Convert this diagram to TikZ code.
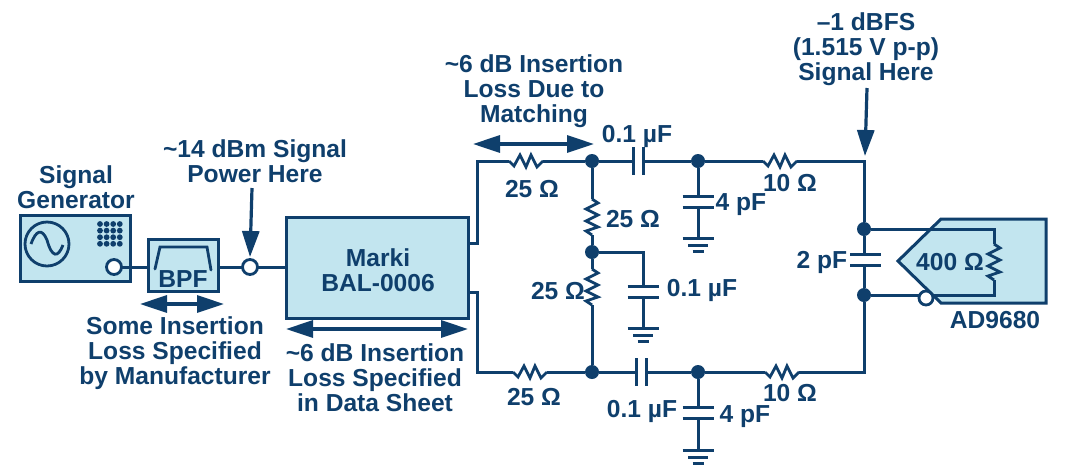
\documentclass[tikz,border=0pt]{standalone}
\usepackage{fontspec}
\setmainfont{Liberation Sans}
\usetikzlibrary{arrows.meta}
\definecolor{adi}{HTML}{0F3F6C}
\definecolor{adilight}{HTML}{C2E5EF}
\tikzset{
  x=1pt,y=-1pt,
  wire/.style={draw=adi,line width=3pt,line join=miter},
  box/.style={draw=adi,line width=3pt,fill=adilight,outer sep=0pt,inner sep=0pt},
  txt/.style={text=adi,font=\fontsize{24.6}{25}\selectfont\bfseries,align=center,inner sep=0pt},
  dot/.style={circle,fill=adi,draw=none,minimum size=14pt,inner sep=0pt},
  port/.style={circle,fill=white,draw=adi,line width=2.8pt,minimum size=15pt,inner sep=0pt,outer sep=0pt},
  span/.style={draw=adi,line width=3.2pt,{Triangle[length=27pt,width=17pt]}-{Triangle[length=27pt,width=17pt]}},
  callout/.style={draw=adi,line width=3.2pt,-{Triangle[length=26pt,width=17pt]}},
  hres/.pic={
    \fill[white] (-17,-3) rectangle (17,3);
    \draw[wire,line width=2.8pt] (-17,0)--(-12,5)--(-6,-6)--(0,6)--(5,-6)--(11,6)--(17,0);},
  vres/.pic={
    \fill[white] (-3,-18) rectangle (3,18);
    \draw[wire,line width=2.8pt] (0,-18)--(6,-14)--(-6,-8)--(6,-2)--(-6,4)--(6,10)--(-6,14)--(0,18);},
  vresblue/.pic={
    \fill[adilight] (-3,-18) rectangle (3,18);
    \draw[wire,line width=2.8pt] (0,-18)--(6,-14)--(-6,-8)--(6,-2)--(-6,4)--(6,10)--(-6,14)--(0,18);},
  hcap/.pic={
    \fill[white] (-5,-4) rectangle (5,4);
    \draw[wire] (-5,-14)--(-5,14) (5,-14)--(5,14);},
  vcap/.pic={
    \fill[white] (-4,-5) rectangle (4,5);
    \draw[wire] (-15.5,-5.5)--(15.5,-5.5) (-15.5,5.5)--(15.5,5.5);},
  gnd/.pic={
    \draw[wire] (-15.5,0)--(15.5,0) (-10,7)--(10,7) (-5.5,13)--(5.5,13);},
}
\begin{document}
\begin{tikzpicture}
\useasboundingbox (0,0) rectangle (1065,475);
% ADC body
\path[box] (898,261)--(941,219)--(1046,219)--(1046,303)--(941,303)--cycle;
% blocks
\node[box,minimum width=109.5pt,minimum height=66pt,anchor=north west] (gen) at (20.5,215.5) {};
\node[box,minimum width=70pt,minimum height=52pt,anchor=north west] (bpf) at (148.5,239.5) {};
\node[box,minimum width=181.5pt,minimum height=100.5pt,anchor=north west] (marki) at (286.5,217.5) {};
% junctions
\node[dot] (t1) at (592,161) {};
\node[dot] (t2) at (698,161) {};
\node[dot] (mid) at (592,252) {};
\node[dot] (b1) at (592,372) {};
\node[dot] (b2) at (698,372) {};
\node[dot] (i1) at (864,229) {};
\node[dot] (i2) at (864,295) {};
\coordinate (tl) at (477,161);
\coordinate (ml1) at (468,243);
\coordinate (ml2) at (477,243);
\coordinate (bl) at (477,372);
\coordinate (nl1) at (468,292);
\coordinate (nl2) at (477,292);
\coordinate (tr) at (864,161);
\coordinate (br) at (864,372);
\coordinate (rr1) at (994,229);
\coordinate (rr2) at (994,295);
\coordinate (mc) at (643,252);
\coordinate (g1) at (698,238);
\coordinate (g2) at (643,328);
\coordinate (g3) at (698,450);
% generator details
\node[circle,draw=adi,line width=2.8pt,fill=adilight,minimum size=44pt,inner sep=0pt] (osc) at (47,244) {};
\draw[adi,line width=2.8pt] (31,244) .. controls (36,230) and (42,228) .. (47,240) .. controls (52,258) and (58,258) .. (63,245);
\foreach \i in {0,1,2,3}{\foreach \j in {0,1,2,3}{\fill[adi] ({100+6.6*\i},{224+6.6*\j}) circle (2.9pt);}}
\node[port] (out) at (114,267) {};
\node[port] (p14) at (250,267) {};
\draw[wire] (out)--(bpf.west|-out);
\draw[wire] (bpf.east|-p14)--(p14);
\draw[wire] (p14)--(marki.west|-p14);
\draw[adi,line width=2.8pt,line cap=round] (155,269)--(160,247)--(207,247)--(211,270);
% wires
\draw[wire] (ml1)--(ml2)--(tl)--(t1)--(t2)--(tr)--(i1)--(i2)--(br)--(b2)--(b1)--(bl)--(nl2)--(nl1);
\draw[wire] (t1)--(mid)--(b1);
\draw[wire] (mid)--(mc)--(g2);
\draw[wire] (t2)--(g1);
\draw[wire] (b2)--(g3);
\draw[wire] (i1)--(rr1)--(rr2)--(i2);
\node[port,minimum size=14pt] (adcin) at (926,298) {};
% components
\pic at (526,161) {hres};
\pic at (530,372) {hres};
\pic at (780,161) {hres};
\pic at (782,372) {hres};
\pic at (592,217) {vres};
\pic at (592,287) {vres};
\pic at (994,262) {vresblue};
\pic at (638,161) {hcap};
\pic at (641,372) {hcap};
\pic at (698,201.5) {vcap};
\pic at (643,291.5) {vcap};
\pic at (698,412.5) {vcap};
\pic at (865.5,260) {vcap};
\pic at (g1) {gnd};
\pic at (g2) {gnd};
\pic at (g3) {gnd};
% arrows
\coordinate (a1l) at (140,304); \coordinate (a1r) at (224,304);
\coordinate (a2l) at (286,329); \coordinate (a2r) at (468,329);
\coordinate (a3l) at (473,144); \coordinate (a3r) at (594,144);
\coordinate (c1) at (252,188); \coordinate (c1e) at (250,257);
\coordinate (c2) at (867,88); \coordinate (c2e) at (865,156);
\draw[span] (a1l)--(a1r);
\draw[span] (a2l)--(a2r);
\draw[span] (a3l)--(a3r);
\draw[callout] (c1)--(c1e);
\draw[callout] (c2)--(c2e);
% labels
\node[txt] (l1) at (76,187.5) {Signal\\Generator};
\node[txt] (l2) at (255,161) {\textasciitilde14 dBm Signal\\Power Here};
\node[txt] (l3) at (183,279) {BPF};
\node[txt] (l4) at (378,270) {Marki\\BAL-0006};
\node[txt] (l5) at (175,353) {Some Insertion\\Loss Specified\\by Manufacturer};
\node[txt] (l6) at (375,378) {\textasciitilde6 dB Insertion\\Loss Specified\\in Data Sheet};
\node[txt] (l7) at (534,91) {\textasciitilde6 dB Insertion\\Loss Due to\\Matching};
\node[txt] (l8) at (866,49) {–1 dBFS\\(1.515 V p-p)\\Signal Here};
\node[txt] (l9) at (637,136) {0.1 µF};
\node[txt] (l10) at (532,189) {25 Ω};
\node[txt] (l11) at (633,219) {25 Ω};
\node[txt] (l12) at (741,205) {4 pF};
\node[txt] (l13) at (558,291) {25 Ω};
\node[txt] (l14) at (702,290) {0.1 µF};
\node[txt] (l15) at (534,397) {25 Ω};
\node[txt] (l16) at (642,411) {0.1 µF};
\node[txt] (l17) at (745,417) {4 pF};
\node[txt] (l18) at (790,183) {10 Ω};
\node[txt] (l19) at (790,393) {10 Ω};
\node[txt] (l20) at (822,262) {2 pF};
\node[txt] (l21) at (950,262) {400 Ω};
\node[txt] (l22) at (995,320) {AD9680};
\end{tikzpicture}
\end{document}
